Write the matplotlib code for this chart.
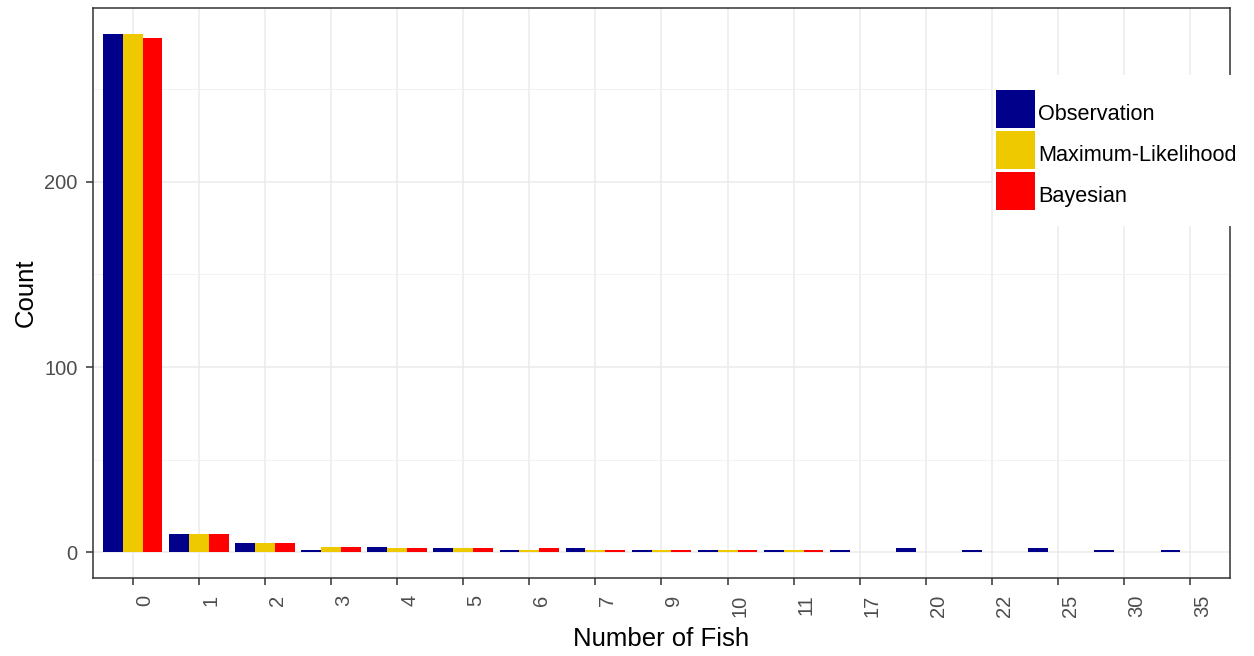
import matplotlib
matplotlib.use("Agg")
import matplotlib.pyplot as plt
from matplotlib.patches import Rectangle
from matplotlib.transforms import ScaledTranslation

plt.rcParams['font.family'] = ['Liberation Sans', 'DejaVu Sans']

# number of fish per catch (discrete categories on the x axis)
fish = ['0', '1', '2', '3', '4', '5', '6', '7', '9', '10', '11',
        '17', '20', '22', '25', '30', '35']
observed = [280, 10, 5, 1, 3, 2, 1, 2, 1, 1, 1, 1, 2, 1, 2, 1, 1]

# fitted counts only exist for the lower categories
fit_fish = ['0', '1', '2', '3', '4', '5', '6', '7', '9', '10', '11']
max_lik = [280, 10, 5, 3, 2, 2, 1, 1, 1, 1, 1]
bayesian = [278, 10, 5, 3, 2, 2, 2, 1, 1, 1, 1]

series = ['Observation', 'Maximum-Likelihood', 'Bayesian']
colors = ['#00008B', '#EEC900', '#FF0000']

W, H = 1254, 656
fig = plt.figure(figsize=(W / 100, H / 100), dpi=100)
ax = fig.add_axes([93 / W, 1 - 578 / H, (1230 - 93) / W, (578 - 8) / H])

pos = {f: i for i, f in enumerate(fish)}
bw = 0.3
x_obs = [pos[f] - bw for f in fish]
x_fit = [pos[f] for f in fit_fish]

ax.bar(x_obs, observed, width=bw, color=colors[0], linewidth=0, zorder=3)
ax.bar(x_fit, max_lik, width=bw, color=colors[1], linewidth=0, zorder=3)
ax.bar([x + bw for x in x_fit], bayesian, width=bw, color=colors[2],
       linewidth=0, zorder=3)

ax.set_xlim(-0.6, len(fish) - 0.4)
ax.set_ylim(-14, 294)

ax.set_xticks(range(len(fish)))
ax.set_xticklabels(fish, rotation=90, ha='left', va='top')
ax.set_yticks([0, 100, 200])
ax.set_yticks([50, 150, 250], minor=True)

ax.grid(which='major', color='#EBEBEB', linewidth=1.1, zorder=0)
ax.grid(which='minor', axis='y', color='#F2F2F2', linewidth=0.7, zorder=0)
ax.set_axisbelow(True)

for s in ax.spines.values():
    s.set_color('#333333')
    s.set_linewidth(1.1)

ax.tick_params(which='major', length=5, width=1.1, color='#333333',
               labelcolor='#4D4D4D', labelsize=14.5)
ax.tick_params(axis='x', pad=7)
ax.tick_params(axis='y', pad=6)
ax.tick_params(which='minor', length=0)
shift = ScaledTranslation(3 / 100, 0, fig.dpi_scale_trans)
for lab in ax.get_xticklabels():
    lab.set_transform(lab.get_transform() + shift)

ax.set_xlabel('Number of Fish', fontsize=18.5, color='black', labelpad=7)
ax.set_ylabel('Count', fontsize=18.5, color='black', labelpad=5)

# legend box drawn in figure pixels, on top of the panel border
fig.patches.append(Rectangle((993 / W, 1 - 226 / H), (1248 - 993) / W,
                             (226 - 75) / H, transform=fig.transFigure,
                             facecolor='white', edgecolor='none', zorder=5))
for i, (name, col) in enumerate(zip(series, colors)):
    top = 90 + 41 * i
    fig.patches.append(Rectangle((996 / W, 1 - (top + 38) / H), 39 / W,
                                 38 / H, transform=fig.transFigure,
                                 facecolor=col, edgecolor='none', zorder=6))
    fig.text(1038 / W, 1 - (top + 30) / H, name, fontsize=15.6, color='black',
             ha='left', va='baseline', zorder=7)

fig.savefig('out.png', dpi=100)
